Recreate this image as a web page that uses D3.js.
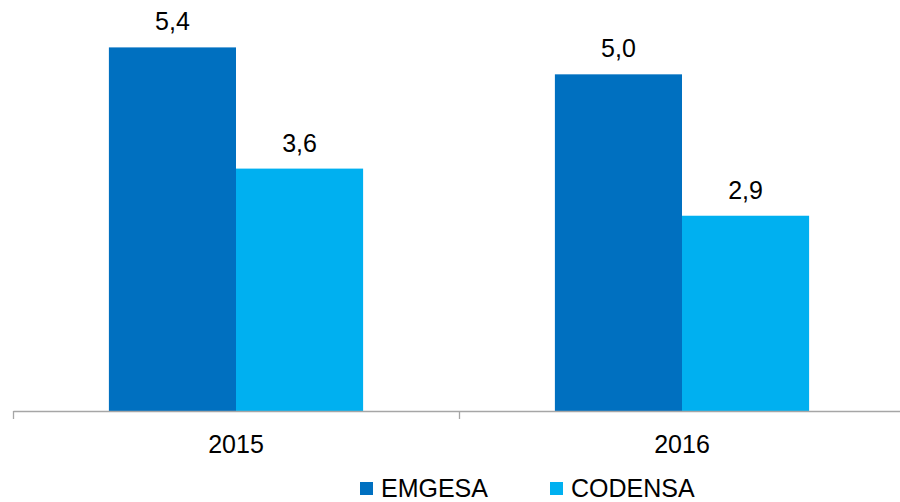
<!DOCTYPE html>
<html>
<head>
<meta charset="utf-8">
<script src="https://cdn.jsdelivr.net/npm/d3@7"></script>
<style>
  body { margin: 0; background: #fff; }
  text { font-family: "Liberation Sans", Arial, sans-serif; fill: #000; }
</style>
</head>
<body>
<svg id="chart" width="900" height="502"></svg>
<script>
let years = ['2015', '2016']
let series = ['EMGESA', 'CODENSA']
let emgesa = [5.4, 5.0]
let codensa = [3.6, 2.9]
let colors = ['#0070C0', '#00B0F0']

let svg = d3.select('#chart')

let left = 13, right = 905, baseY = 411

let x0 = d3.scaleBand()
    .domain(years)
    .range([left, right])
    .paddingInner(0.43)
    .paddingOuter(0.215)

let x1 = d3.scaleBand()
    .domain(series)
    .range([0, x0.bandwidth()])

let y = d3.scaleLinear().domain([0, 6]).range([baseY, 7])

let rows = years.map((yr, i) => ({ year: yr, values: [emgesa[i], codensa[i]] }))

let groups = svg.selectAll('g.year')
    .data(rows)
    .enter()
    .append('g')
    .attr('class', 'year')
    .attr('transform', d => 'translate(' + x0(d.year) + ',0)')

groups.selectAll('rect')
    .data(d => d.values.map((v, j) => ({ key: series[j], value: v, color: colors[j] })))
    .enter()
    .append('rect')
    .attr('x', d => x1(d.key))
    .attr('y', d => y(d.value))
    .attr('width', x1.bandwidth())
    .attr('height', d => baseY - y(d.value))
    .attr('fill', d => d.color)

groups.selectAll('text.label')
    .data(d => d.values.map((v, j) => ({ key: series[j], value: v })))
    .enter()
    .append('text')
    .attr('class', 'label')
    .attr('x', d => x1(d.key) + x1.bandwidth() / 2)
    .attr('y', d => y(d.value) - 17)
    .attr('text-anchor', 'middle')
    .attr('font-size', 25)
    .text(d => d3.format('.1f')(d.value).replace('.', ','))

// category axis: ticks sit on the group boundaries
let xb = d3.scaleLinear().domain([0, years.length]).range([left, right])
let axis = svg.append('g')
    .attr('transform', 'translate(0,' + baseY + ')')
    .call(d3.axisBottom(xb).ticks(years.length).tickSize(8).tickSizeOuter(0).tickFormat(''))
axis.selectAll('path, line').attr('stroke', '#a6a6a6').attr('stroke-width', 1.3)

svg.selectAll('text.cat')
    .data(years)
    .enter()
    .append('text')
    .attr('class', 'cat')
    .attr('x', d => x0(d) + x0.bandwidth() / 2)
    .attr('y', 453)
    .attr('text-anchor', 'middle')
    .attr('font-size', 25)
    .text(d => d)

// legend
let legendX = [360, 550]
let legend = svg.selectAll('g.legend')
    .data(series)
    .enter()
    .append('g')
    .attr('class', 'legend')
    .attr('transform', (d, i) => 'translate(' + legendX[i] + ',0)')

legend.append('rect')
    .attr('x', 0)
    .attr('y', 482)
    .attr('width', 13)
    .attr('height', 13)
    .attr('fill', (d, i) => colors[i])

legend.append('text')
    .attr('x', 21)
    .attr('y', 497)
    .attr('font-size', 25)
    .text(d => d)
</script>
</body>
</html>
